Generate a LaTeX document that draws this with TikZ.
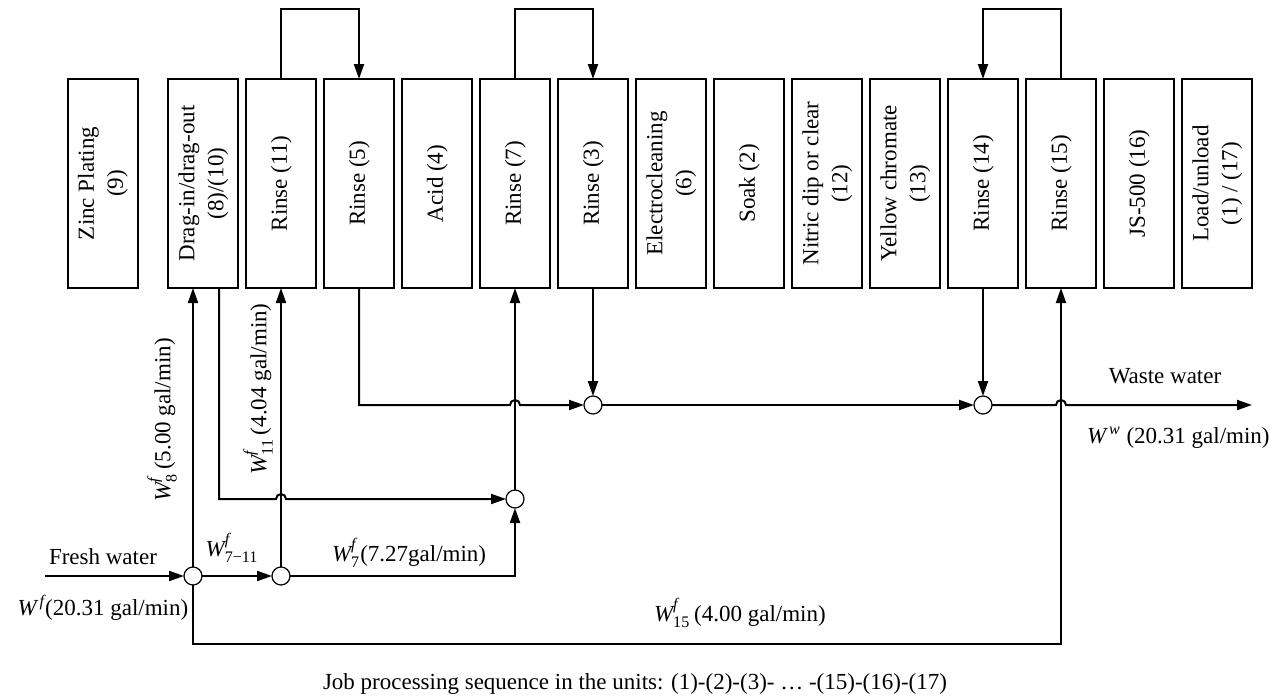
\documentclass[tikz,border=0pt]{standalone}
\usepackage{fontspec}
\usepackage{amsmath}
\setmainfont{Liberation Serif}
\usetikzlibrary{arrows.meta,calc}
% vertical (rotated) label for a process unit
\newcommand{\vtext}[1]{\rotatebox{90}{\begin{tabular}{@{}c@{}}#1\end{tabular}}}
% flow-rate symbol W^f with optional subscript
\newcommand{\Wf}[1]{$\textit{W}^{\textit{f}}_{\text{#1}}$}
\begin{document}
\begin{tikzpicture}[x=0.5pt,y=-0.5pt,
  every node/.style={font=\fontsize{11.5}{14.5}\selectfont},
  unit/.style={draw,line width=1pt,minimum width=35pt,minimum height=104.5pt,inner sep=0pt,outer sep=0pt},
  mix/.style={circle,draw,line width=0.6pt,fill=white,minimum size=9pt,inner sep=0pt,outer sep=0pt},
  flow/.style={line width=1pt,-{Triangle[length=7.5pt,width=5pt]}},
  pipe/.style={line width=1pt}]
\useasboundingbox (0,0) rectangle (1270,696);

% process units
\node[unit] (u9)  at (102.5,183.5) {\vtext{Zinc Plating\\(9)}};
\node[unit] (u8)  at (203,183.5)  {\vtext{Drag-in/drag-out\\(8)/(10)}};
\node[unit] (u11) at (281,183.5)  {\vtext{Rinse (11)}};
\node[unit] (u5)  at (359,183.5)  {\vtext{Rinse (5)}};
\node[unit] (u4)  at (437,183.5)  {\vtext{Acid (4)}};
\node[unit] (u7)  at (515,183.5)  {\vtext{Rinse (7)}};
\node[unit] (u3)  at (593,183.5)  {\vtext{Rinse (3)}};
\node[unit] (u6)  at (671,183.5)  {\vtext{Electrocleaning\\(6)}};
\node[unit] (u2)  at (749,183.5)  {\vtext{Soak (2)}};
\node[unit] (u12) at (827,183.5)  {\vtext{Nitric dip or clear\\(12)}};
\node[unit] (u13) at (905,183.5)  {\vtext{Yellow chromate\\(13)}};
\node[unit] (u14) at (983,183.5)  {\vtext{Rinse (14)}};
\node[unit] (u15) at (1061,183.5) {\vtext{Rinse (15)}};
\node[unit] (u16) at (1139,183.5) {\vtext{JS-500 (16)}};
\node[unit] (u1)  at (1217,183.5) {\vtext{Load/unload\\(1) / (17)}};

% mixing points
\node[mix] (m1) at (193,576) {};
\node[mix] (m2) at (281,576) {};
\node[mix] (m3) at (515,499) {};
\node[mix] (m4) at (593,405) {};
\node[mix] (m5) at (983,405) {};

\coordinate (fw) at (45,576);
\coordinate (ww) at (1252,405);
\coordinate (b1) at (193,644);

% counter-current rinse loops
\draw[flow] (u11.north) -- ++(0,-70) -| (u5.north);
\draw[flow] (u7.north)  -- ++(0,-70) -| (u3.north);
\draw[flow] (u15.north) -- ++(0,-70) -| (u14.north);

% fresh water distribution
\draw[flow] (fw) -- (m1.west);
\draw[flow] (m1.east) -- (m2.west);
\draw[flow] (m1.north) -- ([xshift=-5pt]u8.south);
\draw[flow] (m2.north) -- (u11.south);
\draw[flow] (m2.east) -- (m2.east -| m3) -- (m3.south);
\draw[flow] (m1.south) -- (b1) -| (u15.south);

% reuse streams
\draw[flow] ([xshift=8pt]u8.south) |- ($(u11.south |- m3.west)+(-5,0)$) arc (180:360:5) -- (m3.west);
\draw[flow] (m3.north) -- (u7.south);
\draw[flow] (u5.south) |- ($(u7.south |- m4.west)+(-5,0)$) arc (180:360:5) -- (m4.west);
\draw[flow] (u3.south) -- (m4.north);
\draw[flow] (m4.east) -- (m5.west);
\draw[flow] (u14.south) -- (m5.north);
\draw[flow] (m5.east) -- ($(u15.south |- m5.east)+(-5,0)$) arc (180:360:5) -- (ww);

% stream labels
\node (tfw) at (103,557) {Fresh water};
\node (tWf) at (103,608) {$\textit{W}^{\,\textit{f}}$(20.31 gal/min)};
\node (tW711) at (232,548) {\Wf{7\textminus 11}};
\node[anchor=west] (tW7) at (325,553) {\Wf{7}(7.27gal/min)};
\node[anchor=west] (tW15) at (647,613) {\Wf{15}\,(4.00 gal/min)};
\node (tww) at (1165,376) {Waste water};
\node[anchor=west] (tWw) at (1080,438) {$\textit{W}^{\,\textit{w}}$ (20.31 gal/min)};
\node[rotate=90] (tW8) at (162,420) {\Wf{8}\,(5.00 gal/min)};
\node[rotate=90] (tW11) at (258,389) {\Wf{11}\,(4.04 gal/min)};
\node (tseq) at (635,684) {Job processing sequence in the units: (1)-(2)-(3)- … -(15)-(16)-(17)};
\end{tikzpicture}
\end{document}
